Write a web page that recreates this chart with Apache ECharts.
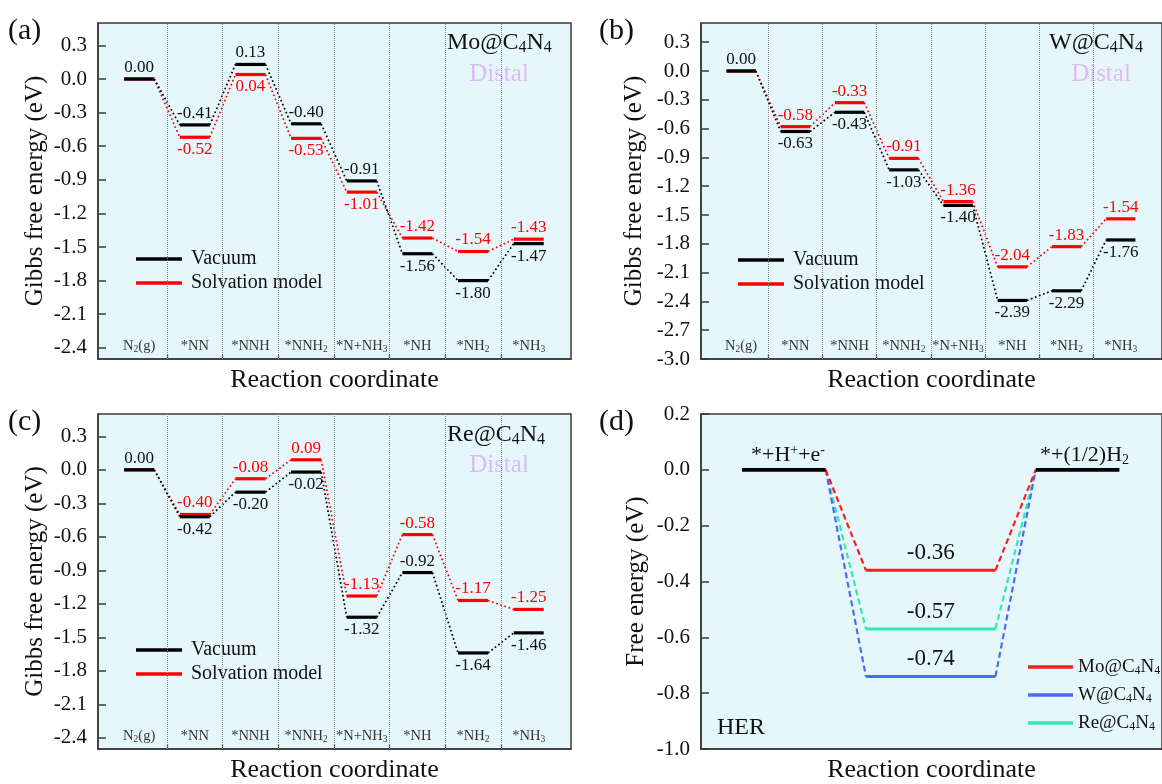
<!DOCTYPE html>
<html lang="en">
<head>
<meta charset="UTF-8">
<title>Gibbs free energy diagrams</title>
<script src="https://cdn.jsdelivr.net/npm/echarts@6/dist/echarts.min.js"></script>
<style>
    html, body { margin: 0; padding: 0; background: #fff; }
    #container { width: 1162px; height: 784px; }
</style>
</head>
<body>
<div id="container"></div>
<script>
    // reaction steps (NRR, distal path)
    var steps = ['N2(g)', '*NN', '*NNH', '*NNH2', '*N+NH3', '*NH', '*NH2', '*NH3'];

    // Mo@C4N4
    var moVac = [0.00, -0.41, 0.13, -0.40, -0.91, -1.56, -1.80, -1.47];
    var moSol = [0.00, -0.52, 0.04, -0.53, -1.01, -1.42, -1.54, -1.43];
    // W@C4N4
    var wVac = [0.00, -0.63, -0.43, -1.03, -1.40, -2.39, -2.29, -1.76];
    var wSol = [0.00, -0.58, -0.33, -0.91, -1.36, -2.04, -1.83, -1.54];
    // Re@C4N4
    var reVac = [0.00, -0.42, -0.20, -0.02, -1.32, -0.92, -1.64, -1.46];
    var reSol = [0.00, -0.40, -0.08, 0.09, -1.13, -0.58, -1.17, -1.25];

    // where each value label sits (up = above the level, down = below)
    var moVacSide = ['up', 'up', 'up', 'up', 'up', 'down', 'down', 'down'];
    var moSolSide = [null, 'down', 'down', 'down', 'down', 'up', 'up', 'up'];
    var wVacSide = ['up', 'down', 'down', 'down', 'down', 'down', 'down', 'down'];
    var wSolSide = [null, 'up', 'up', 'up', 'up', 'up', 'up', 'up'];
    var reVacSide = ['up', 'down', 'down', 'down', 'down', 'up', 'down', 'down'];
    var reSolSide = [null, 'up', 'up', 'up', 'up', 'up', 'up', 'up'];

    // HER
    var herNames = ['Mo@C4N4', 'W@C4N4', 'Re@C4N4'];
    var herValues = [-0.36, -0.74, -0.57];
    var herEnds = [0.0, 0.0];

    // tick labels
    var yTicksA = [0.3, 0.0, -0.3, -0.6, -0.9, -1.2, -1.5, -1.8, -2.1, -2.4];
    var yTicksB = [0.3, 0.0, -0.3, -0.6, -0.9, -1.2, -1.5, -1.8, -2.1, -2.4, -2.7, -3.0];
    var yTicksD = [0.2, 0.0, -0.2, -0.4, -0.6, -0.8, -1.0];

    var FONT = '"Liberation Serif", "Times New Roman", serif';
    var RED = '#ff0000';
    var BLACK = '#000000';
    var herColors = ['#ff1c1c', '#4a6cf4', '#30ebb0'];

    function subDigits(s) {
        return s.replace(/(\d)/g, '{s|$1}');
    }

    var chart = echarts.init(document.getElementById('container'));

    var grids = [
        {left: 98, top: 23, width: 473, height: 336},
        {left: 701, top: 23, width: 473, height: 336},
        {left: 98, top: 414, width: 473, height: 336},
        {left: 701, top: 414, width: 473, height: 336}
    ].map(function (g) {
        g.show = true;
        g.backgroundColor = '#e6f7fc';
        g.borderColor = '#383838';
        g.borderWidth = 1.5;
        g.containLabel = false;
        return g;
    });

    var sepValues = steps.slice(1).map(function (s, i) { return i + 0.5; });
    var stepIdx = steps.map(function (s, i) { return i; });

    function nrrX(gi) {
        return {
            type: 'value', gridIndex: gi, min: -0.74, max: 7.76,
            axisLine: {show: true, onZero: false, lineStyle: {color: '#383838', width: 1.5}},
            splitLine: {show: false},
            axisTick: {show: true, inside: true, length: 5, customValues: sepValues,
                lineStyle: {color: '#383838', width: 1.2}},
            axisLabel: {
                inside: true, margin: 5, customValues: stepIdx,
                formatter: function (v) { return subDigits(steps[Math.round(v)]); },
                fontFamily: FONT, fontSize: 14.5, color: '#333', lineHeight: 16,
                rich: {s: {fontFamily: FONT, fontSize: 9.5, lineHeight: 4, verticalAlign: 'bottom', color: '#333'}}
            },
            name: 'Reaction coordinate', nameLocation: 'middle', nameGap: 8,
            nameTextStyle: {fontFamily: FONT, fontSize: 26, color: '#111'}
        };
    }

    function yAx(gi, min, max, ticks, name, gap) {
        return {
            type: 'value', gridIndex: gi, min: min, max: max,
            axisLine: {show: true, onZero: false, lineStyle: {color: '#383838', width: 1.5}},
            splitLine: {show: false},
            axisTick: {show: true, inside: true, length: 8, customValues: ticks,
                lineStyle: {color: '#383838', width: 1.5}},
            axisLabel: {
                customValues: ticks, margin: 11,
                formatter: function (v) { return v.toFixed(1); },
                fontFamily: FONT, fontSize: 21, color: '#111'
            },
            name: name, nameLocation: 'middle', nameGap: gap,
            nameTextStyle: {fontFamily: FONT, fontSize: 25, color: '#111'}
        };
    }

    // one energy level per step + dotted connector to the next step
    function levelSeries(name, gi, vals, sides, color) {
        var hw = 0.27;
        return {
            type: 'custom', name: name, xAxisIndex: gi, yAxisIndex: gi,
            itemStyle: {color: color},
            silent: true, animation: false, clip: false,
            data: vals.map(function (v, i) { return [i, v]; }),
            encode: {x: 0, y: 1},
            renderItem: function (params, api) {
                var i = api.value(0);
                var v = api.value(1);
                var p1 = api.coord([i - hw, v]);
                var p2 = api.coord([i + hw, v]);
                var children = [];
                if (params.dataIndex < vals.length - 1) {
                    var q = api.coord([i + 1 - hw, vals[params.dataIndex + 1]]);
                    children.push({
                        type: 'line',
                        shape: {x1: p2[0], y1: p2[1], x2: q[0], y2: q[1]},
                        style: {stroke: color, lineWidth: 1.7, lineDash: [1.7, 2.6]}
                    });
                }
                children.push({
                    type: 'line',
                    shape: {x1: p1[0], y1: p1[1], x2: p2[0], y2: p2[1]},
                    style: {stroke: color, lineWidth: 3.2}
                });
                var side = sides[params.dataIndex];
                if (side) {
                    children.push({
                        type: 'text',
                        style: {
                            text: v.toFixed(2),
                            x: (p1[0] + p2[0]) / 2,
                            y: side === 'up' ? p1[1] - 3 : p1[1] + 4,
                            align: 'center',
                            verticalAlign: side === 'up' ? 'bottom' : 'top',
                            fill: color === BLACK ? '#111' : color,
                            fontFamily: FONT, fontSize: 17
                        }
                    });
                }
                return {type: 'group', children: children};
            }
        };
    }

    function separators() {
        return {
            silent: true, animation: false,
            symbol: ['none', 'none'],
            label: {show: false},
            lineStyle: {type: 'dotted', color: '#8c8c8c', width: 1},
            data: sepValues.map(function (x) { return {xAxis: x}; })
        };
    }

    // HER panel
    var hwEnd = 0.285, hwMid = 0.441;

    function herSeries(k) {
        var color = herColors[k];
        return {
            type: 'custom', name: herNames[k], xAxisIndex: 3, yAxisIndex: 3,
            itemStyle: {color: color},
            silent: true, animation: false, clip: false,
            data: [[1, herValues[k]]],
            encode: {x: 0, y: 1},
            renderItem: function (params, api) {
                var x = api.value(0), v = api.value(1);
                var a = api.coord([0 + hwEnd, herEnds[0]]);
                var p1 = api.coord([x - hwMid, v]);
                var p2 = api.coord([x + hwMid, v]);
                var b = api.coord([2 - hwEnd, herEnds[1]]);
                var dash = {stroke: color, lineWidth: 2.2, lineDash: [6, 3.5]};
                return {
                    type: 'group', children: [
                        {type: 'line', shape: {x1: a[0], y1: a[1], x2: p1[0], y2: p1[1]}, style: dash},
                        {type: 'line', shape: {x1: p2[0], y1: p2[1], x2: b[0], y2: b[1]}, style: dash},
                        {type: 'line', shape: {x1: p1[0], y1: p1[1], x2: p2[0], y2: p2[1]},
                            style: {stroke: color, lineWidth: 3}},
                        {type: 'text', style: {
                            text: v.toFixed(2), x: (p1[0] + p2[0]) / 2, y: p1[1] - 6,
                            align: 'center', verticalAlign: 'bottom',
                            fill: '#111', fontFamily: FONT, fontSize: 23
                        }}
                    ]
                };
            }
        };
    }

    var endSeries = {
        type: 'custom', name: 'ends', xAxisIndex: 3, yAxisIndex: 3,
        itemStyle: {color: BLACK},
        silent: true, animation: false, clip: false,
        data: herEnds.map(function (v, i) { return [i * 2, v]; }),
        encode: {x: 0, y: 1},
        renderItem: function (params, api) {
            var x = api.value(0), v = api.value(1);
            var p1 = api.coord([x - hwEnd, v]);
            var p2 = api.coord([x + hwEnd, v]);
            return {type: 'line', shape: {x1: p1[0], y1: p1[1], x2: p2[0], y2: p2[1]},
                style: {stroke: BLACK, lineWidth: 3.6}};
        }
    };

    var series = [];
    var solA = levelSeries('Solvation model', 0, moSol, moSolSide, RED);
    solA.markLine = separators();
    series.push(solA, levelSeries('Vacuum', 0, moVac, moVacSide, BLACK));
    var solB = levelSeries('Solvation model', 1, wSol, wSolSide, RED);
    solB.markLine = separators();
    series.push(solB, levelSeries('Vacuum', 1, wVac, wVacSide, BLACK));
    var solC = levelSeries('Solvation model', 2, reSol, reSolSide, RED);
    solC.markLine = separators();
    series.push(solC, levelSeries('Vacuum', 2, reVac, reVacSide, BLACK));
    series.push(herSeries(2), herSeries(1), herSeries(0), endSeries);

    function nrrLegend(left, top) {
        return {
            left: left, top: top, orient: 'vertical', padding: 0,
            selectedMode: false,
            data: ['Vacuum', 'Solvation model'],
            icon: 'rect', itemWidth: 46, itemHeight: 3.5, itemGap: 4,
            textStyle: {fontFamily: FONT, fontSize: 20, color: '#111', lineHeight: 20, padding: [0, 0, 0, 4]}
        };
    }

    var subRich = function (size, lh) {
        return {s: {fontFamily: FONT, fontSize: size, lineHeight: lh, verticalAlign: 'bottom', fill: '#111', color: '#111'}};
    };

    function label(text, x, y, size, opts) {
        opts = opts || {};
        return {
            type: 'text', x: x, y: y, silent: true,
            style: {
                text: text, fontFamily: FONT, fontSize: size,
                fill: opts.fill || '#111', align: opts.align || 'left', verticalAlign: 'middle',
                lineHeight: size + 2,
                rich: opts.rich
            }
        };
    }

    var supRich = {
        p: {fontFamily: FONT, fontSize: 14, lineHeight: 4, verticalAlign: 'top', fill: '#111'},
        s: {fontFamily: FONT, fontSize: 14, lineHeight: 5, verticalAlign: 'bottom', fill: '#111'}
    };

    var graphics = [
        label('(a)', 8, 31, 30),
        label('(b)', 599, 31, 30),
        label('(c)', 8, 422, 30),
        label('(d)', 599, 422, 30),
        label(subDigits('Mo@C4N4'), 98 + 349, 43, 24, {rich: subRich(16, 6)}),
        label(subDigits('W@C4N4'), 701 + 348, 43, 24, {rich: subRich(16, 6)}),
        label(subDigits('Re@C4N4'), 98 + 349, 435, 24, {rich: subRich(16, 6)}),
        label('Distal', 98 + 401, 74, 25, {align: 'center', fill: '#dcbcf7'}),
        label('Distal', 701 + 400, 74, 25, {align: 'center', fill: '#dcbcf7'}),
        label('Distal', 98 + 401, 465, 25, {align: 'center', fill: '#dcbcf7'}),
        label('*+H{p|+}+e{p|-}', 751, 455, 22, {rich: supRich}),
        label('*+(1/2)H{s|2}', 1040, 455, 22, {rich: supRich}),
        label('HER', 717, 728, 24)
    ];

    var option = {
        backgroundColor: '#ffffff',
        animation: false,
        grid: grids,
        xAxis: [
            nrrX(0), nrrX(1), nrrX(2),
            {
                type: 'value', gridIndex: 3, min: -0.564, max: 2.575,
                axisLine: {show: true, onZero: false, lineStyle: {color: '#383838', width: 1.5}},
                axisTick: {show: false}, axisLabel: {show: false}, splitLine: {show: false},
                name: 'Reaction coordinate', nameLocation: 'middle', nameGap: 8,
                nameTextStyle: {fontFamily: FONT, fontSize: 26, color: '#111'}
            }
        ],
        yAxis: [
            yAx(0, -2.5, 0.5, yTicksA, 'Gibbs free energy (eV)', 50),
            yAx(1, -3.0, 0.5, yTicksB, 'Gibbs free energy (eV)', 54),
            yAx(2, -2.5, 0.5, yTicksA, 'Gibbs free energy (eV)', 50),
            yAx(3, -1.0, 0.2, yTicksD, 'Free energy (eV)', 52)
        ],
        legend: [
            nrrLegend(136, 249),
            nrrLegend(738, 250),
            nrrLegend(136, 640),
            {
                left: 1028, top: 657, orient: 'vertical', padding: 0,
                selectedMode: false,
                data: herNames,
                icon: 'rect', itemWidth: 45, itemHeight: 3.5, itemGap: 8,
                formatter: function (name) { return subDigits(name); },
                textStyle: {fontFamily: FONT, fontSize: 19, color: '#111', lineHeight: 20,
                    rich: {s: {fontFamily: FONT, fontSize: 12, lineHeight: 5, verticalAlign: 'bottom', color: '#111'}}}
            }
        ],
        graphic: {elements: graphics},
        series: series
    };

    chart.setOption(option);
</script>
</body>
</html>
